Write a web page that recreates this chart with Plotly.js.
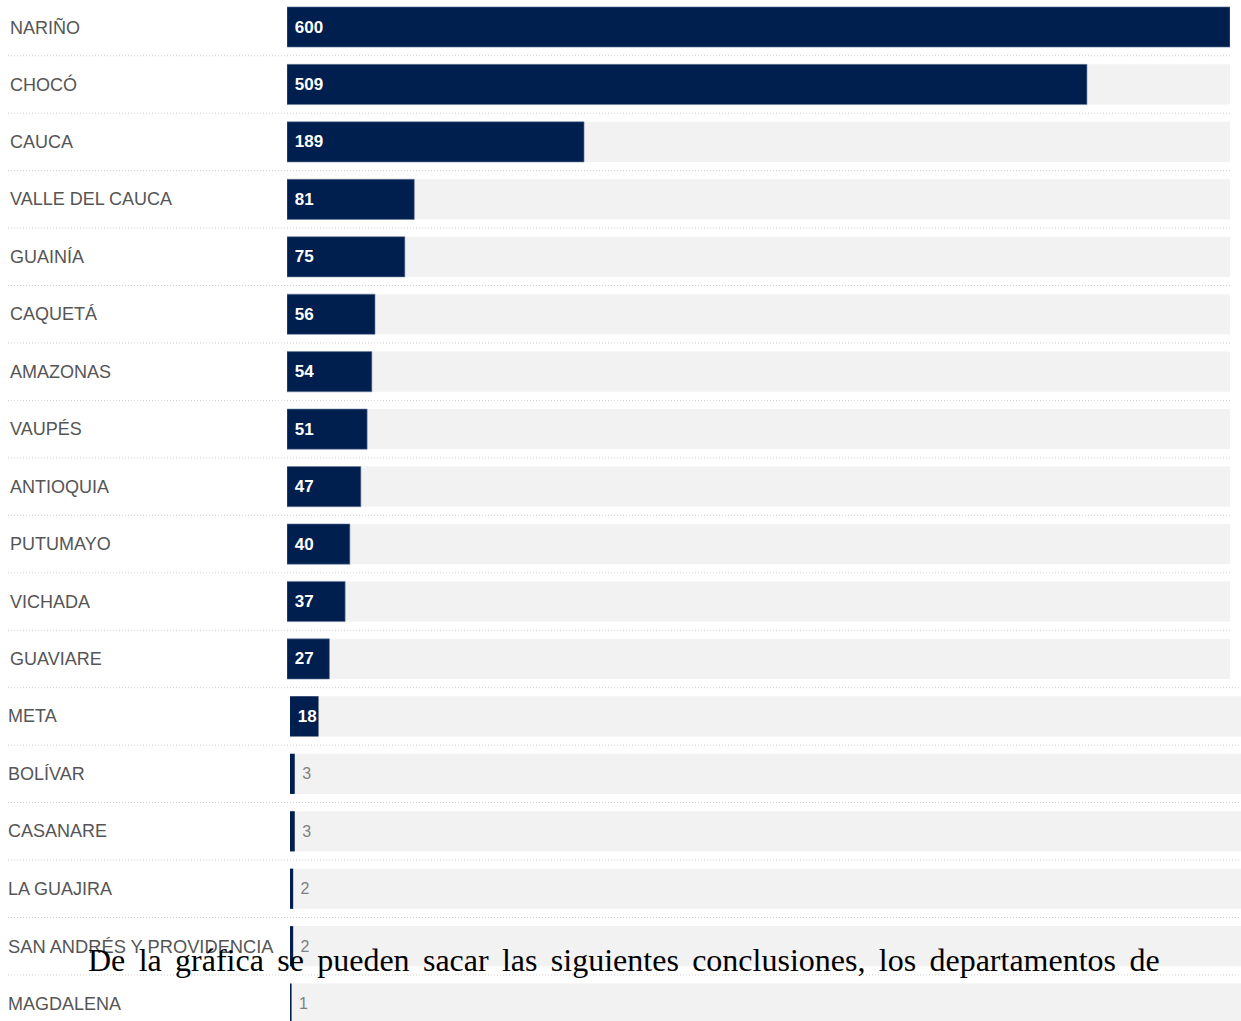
<!DOCTYPE html>
<html>
<head>
<meta charset="utf-8">
<script src="https://cdn.plot.ly/plotly-3.0.1.min.js"></script>
<style>html,body{margin:0;padding:0;background:#fff;}#chart{width:1241px;height:1021px;}</style>
</head>
<body>
<div id="chart"></div>
<script>
// Top section (first screenshot)
const topCategories = ["NARIÑO","CHOCÓ","CAUCA","VALLE DEL CAUCA","GUAINÍA","CAQUETÁ","AMAZONAS","VAUPÉS","ANTIOQUIA","PUTUMAYO","VICHADA","GUAVIARE"];
const topValues = [600,509,189,81,75,56,54,51,47,40,37,27];
// Bottom section (second screenshot)
const bottomCategories = ["META","BOLÍVAR","CASANARE","LA GUAJIRA","SAN ANDRÉS Y PROVIDENCIA","MAGDALENA"];
const bottomValues = [18,3,3,2,2,1];
const scaleMax = 600;
const overlayWords = ["De","la","gráfica","se","pueden","sacar","las","siguientes","conclusiones,","los","departamentos","de"];

const allCats = topCategories.concat(bottomCategories);
const NAVY = '#001f4f';
const TRACK = '#f2f2f2';
const NB = '\u00a0';
const SANS = 'Liberation Sans, Arial, sans-serif';

const traces = [
  {type:'bar', orientation:'h', y: topCategories, x: topCategories.map(()=>scaleMax),
   xaxis:'x', yaxis:'y', marker:{color:TRACK}, hoverinfo:'skip', showlegend:false},
  {type:'bar', orientation:'h', y: bottomCategories, x: bottomCategories.map(()=>scaleMax),
   xaxis:'x2', yaxis:'y', marker:{color:TRACK}, hoverinfo:'skip', showlegend:false},
  {type:'bar', orientation:'h', y: topCategories, x: topValues,
   xaxis:'x', yaxis:'y', marker:{color:NAVY, line:{color:'#6f82a3', width:0.6}},
   text: topValues.map(v=>NB+v), textposition:'inside', insidetextanchor:'start',
   constraintext:'none', textangle:0,
   insidetextfont:{family:SANS, size:17, color:'#ffffff', weight:700},
   showlegend:false},
  {type:'bar', orientation:'h', y: bottomCategories, x: bottomValues,
   xaxis:'x2', yaxis:'y', marker:{color:NAVY},
   text: bottomValues.map(v=>NB+v),
   textposition: bottomValues.map(v=>v>=10?'inside':'outside'),
   insidetextanchor:'start', constraintext:'none', cliponaxis:false, textangle:0,
   insidetextfont:{family:SANS, size:17, color:'#ffffff', weight:700},
   outsidetextfont:{family:SANS, size:16, color:'#808080'},
   showlegend:false}
];

const pitch = 57.45, firstCenter = 27, H = 1021;
const yTop = -firstCenter/pitch;
const yBot = (H-firstCenter)/pitch;

const shapes = [];
for (let i=0;i<allCats.length;i++){
  const yb = i+0.5;
  const x1 = i < topCategories.length-1 ? 1230/1241 : 1;
  shapes.push({type:'line', xref:'paper', yref:'y', x0:8/1241, x1:x1, y0:yb, y1:yb,
    line:{color:'#d0d0d0', width:1, dash:'1px,2px'}, layer:'below'});
}

const annotations = allCats.map((c,i)=>({
  xref:'paper', yref:'y', x:(i<topCategories.length?8:6)/1241, y:c, xanchor:'left', yanchor:'middle',
  text:c, showarrow:false,
  font:{family:SANS, size: (c.length>20?18.3:18), color:'#555555'}
}));
annotations.push({xref:'paper', yref:'paper', x:623.5/1241, y:1-960/1021, xanchor:'center', yanchor:'middle',
  text: overlayWords.join(NB+'\u2006'), showarrow:false,
  font:{family:'Liberation Serif, Times New Roman, serif', size:32, color:'#000000'}});

const axisCommon = {showticklabels:false, showgrid:false, zeroline:false, showline:false, ticks:'', fixedrange:true};
const layout = {
  width:1241, height:1021, margin:{l:0,r:0,t:0,b:0},
  paper_bgcolor:'#ffffff', plot_bgcolor:'rgba(0,0,0,0)',
  barmode:'overlay', bargap:0.3,
  xaxis: Object.assign({domain:[287/1241, 1230/1241], range:[0, scaleMax], anchor:'y'}, axisCommon),
  xaxis2: Object.assign({domain:[290/1241, 1], range:[0, scaleMax], anchor:'y'}, axisCommon),
  yaxis: Object.assign({type:'category', categoryorder:'array', categoryarray: allCats, range:[yBot, yTop], domain:[0,1]}, axisCommon),
  shapes: shapes, annotations: annotations
};
Plotly.newPlot('chart', traces, layout, {displayModeBar:false, staticPlot:true});
</script>
</body>
</html>
